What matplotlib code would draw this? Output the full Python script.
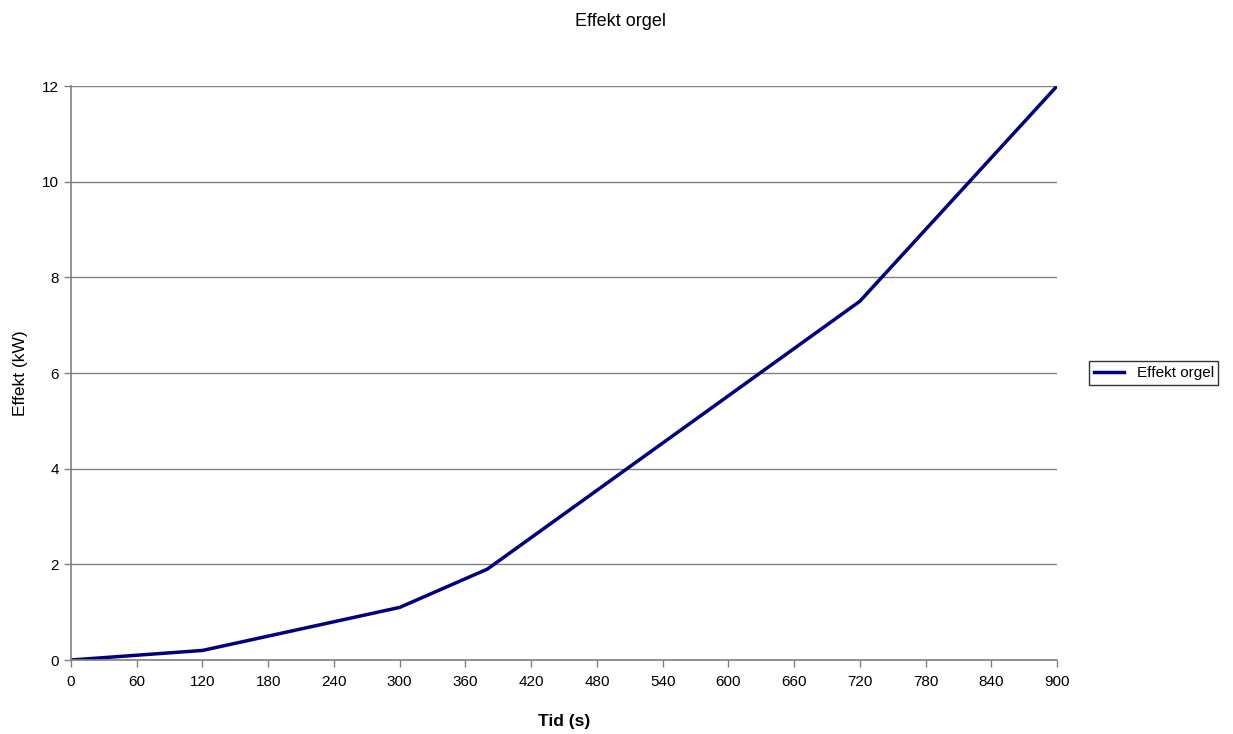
import matplotlib.pyplot as plt

plt.rcParams['font.family'] = ['Liberation Sans', 'DejaVu Sans']

# Data
tid = [0, 120, 300, 380, 720, 900]          # Tid (s)
effekt = [0, 0.2, 1.1, 1.9, 7.5, 12]        # Effekt (kW)
x_ticks = list(range(0, 901, 60))
y_ticks = list(range(0, 13, 2))

fig = plt.figure(figsize=(12.33, 7.34), dpi=100)
ax = fig.add_axes([0.0576, 0.1008, 0.7997, 0.782])

ax.plot(tid, effekt, color='#000080', linewidth=2.5, label='Effekt orgel')

ax.set_xlim(0, 900)
ax.set_ylim(0, 12)
ax.set_xticks(x_ticks)
ax.set_yticks(y_ticks)
ax.tick_params(labelsize=11, colors='black', length=5, width=1, color='#808080')
ax.tick_params(axis='x', pad=6)
ax.grid(axis='y', color='#808080', linewidth=1)
ax.set_axisbelow(True)
for side in ['top', 'right']:
    ax.spines[side].set_visible(False)
for side in ['left', 'bottom']:
    ax.spines[side].set_color('#808080')
    ax.spines[side].set_linewidth(1.2)

ax.set_xlabel('Tid (s)', fontsize=12.5, fontweight='bold', labelpad=18)
ax.set_ylabel('Effekt (kW)', fontsize=12.5, labelpad=10)
fig.suptitle('Effekt orgel', fontsize=13, x=0.503, y=0.982)

leg = ax.legend(loc='center left', bbox_to_anchor=(1.025, 0.5), fontsize=11,
                frameon=True, fancybox=False, handlelength=2, borderpad=0.3)
leg.get_frame().set_edgecolor('black')
leg.get_frame().set_linewidth(1)

fig.savefig('out.png', dpi=100)
